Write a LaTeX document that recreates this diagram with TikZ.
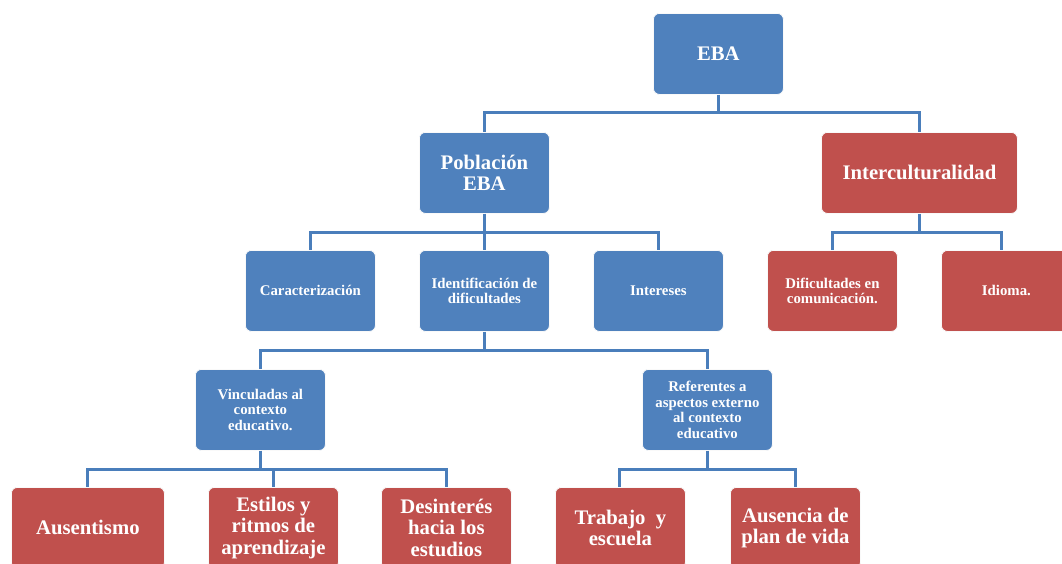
\documentclass[tikz,border=0pt]{standalone}
\usepackage{fontspec}
\setmainfont{Liberation Serif}
\definecolor{ebablue}{HTML}{4F81BD}
\definecolor{ebared}{HTML}{C0504D}
\definecolor{linkblue}{HTML}{4A7EBB}
\begin{document}
\begin{tikzpicture}[x=1pt,y=-1pt,
  box/.style={rectangle, rounded corners=6pt, anchor=north west, minimum width=130pt, minimum height=81pt, align=center, text=white, inner sep=2pt, draw=white!75!black!10, line width=0.8pt},
  bluebox/.style={box, fill=ebablue},
  redbox/.style={box, fill=ebared},
  big/.style={font=\fontsize{20.7}{21.5}\selectfont\bfseries},
  small/.style={font=\fontsize{14.8}{15.5}\selectfont\bfseries},
  conn/.style={draw=linkblue, line width=3pt}
]
\useasboundingbox (0,0) rectangle (1062,563);
% level 0
\node[bluebox, big] (eba) at (653,13) {EBA};
% level 1
\node[bluebox, big] (pob) at (419,132) {Población\\EBA};
\node[redbox, big, minimum width=196pt] (inter) at (821,132) {Interculturalidad};
% level 2
\node[bluebox, small] (car) at (245,250) {Caracterización};
\node[bluebox, small] (ide) at (419,250) {Identificación de\\dificultades};
\node[bluebox, small] (int) at (593,250) {Intereses};
\node[redbox, small] (dif) at (767,250) {Dificultades en\\comunicación.};
\node[redbox, small] (idi) at (941,250) {Idioma.};
% level 3
\node[bluebox, small] (vin) at (195,369) {Vinculadas al\\contexto\\educativo.};
\node[bluebox, small] (ref) at (642,369) {Referentes a\\aspectos externo\\al contexto\\educativo};
% level 4
\node[redbox, big, minimum width=153pt] (aus) at (11,487) {Ausentismo};
\node[redbox, big] (est) at (208,487) {Estilos y\\ritmos de\\aprendizaje};
\node[redbox, big] (des) at (381,487) {Desinterés\\hacia los\\estudios};
\node[redbox, big] (tra) at (555,487) {Trabajo\ \ y\\escuela};
\node[redbox, big] (aun) at (730,487) {Ausencia de\\plan de vida};
% connectors
\draw[conn] (eba.south) -- ++(0,18) -| (pob.north);
\draw[conn] (eba.south) -- ++(0,18) -| (inter.north);
\draw[conn] (pob.south) -- ++(0,19) -| (car.north);
\draw[conn] (pob.south) -- ++(0,19) -| (ide.north);
\draw[conn] (pob.south) -- ++(0,19) -| (int.north);
\draw[conn] (inter.south) -- ++(0,19) -| (dif.north);
\draw[conn] (inter.south) -- ++(0,19) -| ([xshift=-4.5pt]idi.north);
\draw[conn] (ide.south) -- ++(0,19) -| (vin.north);
\draw[conn] (ide.south) -- ++(0,19) -| (ref.north);
\draw[conn] (vin.south) -- ++(0,19) -| (aus.north);
\draw[conn] (vin.south) -- ++(0,19) -| (est.north);
\draw[conn] (vin.south) -- ++(0,19) -| (des.north);
\draw[conn] (ref.south) -- ++(0,19) -| ([xshift=-1pt]tra.north);
\draw[conn] (ref.south) -- ++(0,19) -| (aun.north);
\end{tikzpicture}
\end{document}
